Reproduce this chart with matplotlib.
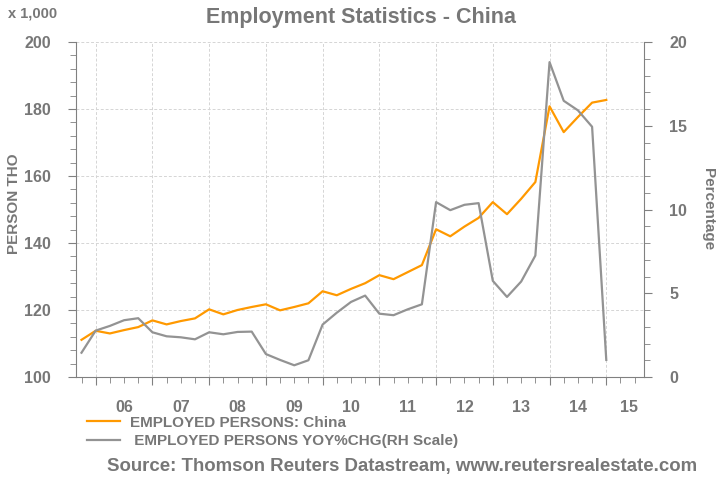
import matplotlib
matplotlib.use("Agg")
import matplotlib.pyplot as plt
import matplotlib.transforms as mtransforms

plt.rcParams['font.family'] = ['Liberation Sans', 'DejaVu Sans']

# quarterly observations, Q4 2005 .. Q1 2015
quarters = [2005.75 + 0.25 * i for i in range(38)]
employed = [111.1, 113.8, 113.0, 114.0, 114.9, 116.9, 115.7, 116.7, 117.5, 120.2,
            118.7, 120.0, 120.9, 121.7, 119.9, 120.9, 122.0, 125.6, 124.4, 126.3,
            128.0, 130.4, 129.2, 131.3, 133.4, 144.1, 142.0, 144.9, 147.5, 152.2,
            148.6, 153.2, 158.2, 180.8, 173.1, 177.6, 181.9, 182.7]
yoy_chg = [1.45, 2.77, 3.05, 3.39, 3.51, 2.67, 2.43, 2.37, 2.25, 2.67,
           2.55, 2.69, 2.71, 1.37, 1.02, 0.70, 1.00, 3.13, 3.84, 4.48,
           4.86, 3.78, 3.69, 4.04, 4.34, 10.44, 9.96, 10.28, 10.38, 5.74,
           4.78, 5.70, 7.25, 18.80, 16.49, 15.92, 14.94, 1.02]
year_labels = ['06', '07', '08', '09', '10', '11', '12', '13', '14', '15']
label_pos = [2006.5, 2007.5, 2008.5, 2009.5, 2010.5, 2011.5, 2012.5, 2013.5, 2014.5, 2015.4]

grey = '#777777'
orange = '#ff9900'
line_grey = '#939393'

fig = plt.figure(figsize=(7.2, 4.8), dpi=100)
ax = fig.add_axes([76 / 720, 103 / 480, 568 / 720, 335 / 480])
ax2 = ax.twinx()

l1, = ax.plot(quarters, employed, color=orange, lw=1.6, zorder=3)
l2, = ax2.plot(quarters, yoy_chg, color=line_grey, lw=1.6, zorder=3)

ax.set_xlim(2005.653, 2015.665)
ax.set_ylim(100, 200)
ax2.set_ylim(0, 20)

ax.set_yticks(range(100, 201, 20))
ax.set_yticks(range(100, 201, 4), minor=True)
ax2.set_yticks(range(0, 21, 5))
ax2.set_yticks(range(0, 21, 1), minor=True)
ax.set_xticks(range(2006, 2016))
ax.set_xticks([2005.75 + 0.25 * i for i in range(40)], minor=True)
ax.set_xticklabels([])

ax.grid(True, which='major', color='#d5d5d5', ls=(0, (3, 2)), lw=0.7)
ax.set_axisbelow(True)

for a in (ax, ax2):
    for s in a.spines.values():
        s.set_color('#808080')
    a.spines['top'].set_visible(False)
    a.tick_params(which='both', colors='#808080', direction='out')
    a.tick_params(which='major', length=6, labelsize=11.5, labelcolor=grey)
    a.tick_params(which='minor', length=4)
ax2.spines['left'].set_visible(False)
ax2.spines['bottom'].set_visible(False)
ax.spines['right'].set_visible(False)
ax.tick_params(axis='y', pad=12)
ax2.tick_params(axis='y', pad=12)
for lab in ax.get_yticklabels() + ax2.get_yticklabels():
    lab.set_fontweight('bold')

trans = mtransforms.blended_transform_factory(ax.transData, fig.transFigure)
for p, t in zip(label_pos, year_labels):
    fig.text(p, 1 - 408 / 480, t, transform=trans, ha='center', va='center',
             fontsize=11.5, fontweight='bold', color=grey)

fig.text(361 / 720, 1 - 17 / 480, 'Employment Statistics - China', ha='center', va='center',
         fontsize=15.5, fontweight='bold', color=grey)
fig.text(8 / 720, 1 - 13 / 480, 'x 1,000', ha='left', va='center',
         fontsize=10.5, fontweight='bold', color=grey)
fig.text(14 / 720, 1 - 204 / 480, 'PERSON THO', ha='center', va='center', rotation=90,
         fontsize=11, fontweight='bold', color=grey)
fig.text(708 / 720, 1 - 209 / 480, 'Percentage', ha='center', va='center', rotation=270,
         fontsize=11, fontweight='bold', color=grey)

leg = fig.legend([l1, l2], ['EMPLOYED PERSONS: China', ' EMPLOYED PERSONS YOY%CHG(RH Scale)'],
                 loc='upper left', bbox_to_anchor=(73 / 720, 1 - 402 / 480), frameon=False,
                 handlelength=2.2, handletextpad=0.6, labelspacing=0.3,
                 prop={'size': 11, 'weight': 'bold'})
for t in leg.get_texts():
    t.set_color(grey)

fig.text(402 / 720, 1 - 467 / 480, 'Source: Thomson Reuters Datastream, www.reutersrealestate.com',
         ha='center', va='center', fontsize=13.4, fontweight='bold', color=grey)

fig.savefig('out.png', dpi=100)
